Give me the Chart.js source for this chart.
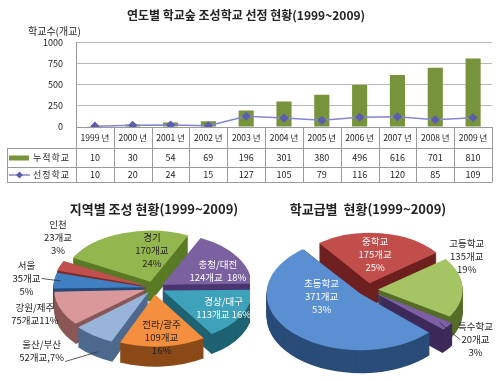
<!DOCTYPE html>
<html>
<head>
<meta charset="utf-8">
<script src="https://cdn.jsdelivr.net/npm/chart.js@4.4.0/dist/chart.umd.min.js"></script>
<style>
html, body { margin: 0; padding: 0; background: #fff; }
#wrap { position: relative; width: 500px; height: 380px; overflow: hidden; }
.box { position: absolute; }
</style>
</head>
<body>
<div id="wrap">
  <div class="box" style="left:0;top:0;width:500px;height:195px"><canvas id="yearChart"></canvas></div>
  <div class="box" style="left:0;top:195px;width:250px;height:185px"><canvas id="regionChart"></canvas></div>
  <div class="box" style="left:250px;top:195px;width:250px;height:185px"><canvas id="levelChart"></canvas></div>
</div>
<script>
// 연도별 선정 현황
const years = ['1999', '2000', '2001', '2002', '2003', '2004', '2005', '2006', '2007', '2008', '2009'];
const cumulative = [10, 30, 54, 69, 196, 301, 380, 496, 616, 701, 810];
const selected = [10, 20, 24, 15, 127, 105, 79, 116, 120, 85, 109];
const yTicks = [0, 250, 500, 750, 1000];

// 지역별 조성 현황
const regionNames = ['경기', '충청/대전', '경상/대구', '전라/광주', '울산/부산', '강원/제주', '서울', '인천'];
const regionCounts = [170, 124, 113, 109, 52, 75, 35, 23];

// 학교급별 현황
const levelNames = ['중학교', '고등학교', '특수학교', '초등학교'];
const levelCounts = [175, 135, 20, 371];

const KR = '"Noto Sans CJK KR", "Noto Sans", sans-serif';
Chart.defaults.font.family = KR;
Chart.defaults.color = '#222';

// 아래 데이터 표 + y축 제목
const tablePlugin = {
  id: 'table',
  afterDraw(chart) {
    const { ctx, chartArea: a, scales: { x } } = chart;
    const n = years.length;
    const cw = (a.right - a.left) / n;
    const left = 7;
    const r0 = Math.round(a.bottom) + 0.5, r1 = r0 + 21, r2 = r1 + 19, r3 = r2 + 15;
    ctx.save();
    ctx.strokeStyle = '#9a9a9a';
    ctx.lineWidth = 1;
    ctx.beginPath();
    ctx.moveTo(a.left, r0); ctx.lineTo(a.right, r0);
    [r1, r2, r3].forEach(y => { ctx.moveTo(left, y); ctx.lineTo(a.right, y); });
    ctx.moveTo(left + 0.5, r1); ctx.lineTo(left + 0.5, r3);
    for (let i = 0; i <= n; i++) {
      const xx = Math.round(a.left + i * cw) + 0.5;
      ctx.moveTo(xx, r0); ctx.lineTo(xx, r3);
    }
    ctx.stroke();

    ctx.fillStyle = '#222';
    ctx.textAlign = 'center';
    ctx.textBaseline = 'middle';
    years.forEach((yr, i) => {
      const cx = x.getPixelForValue(i);
      ctx.font = '8.5px ' + KR;
      ctx.fillText(yr + ' 년', cx, (r0 + r1) / 2);
      ctx.font = '9px ' + KR;
      ctx.fillText(String(cumulative[i]), cx, (r1 + r2) / 2);
      ctx.fillText(String(selected[i]), cx, (r2 + r3) / 2);
    });

    // 범례 기호
    ctx.fillStyle = '#77933c';
    ctx.fillRect(9, (r1 + r2) / 2 - 2.5, 20, 5);
    const ly = (r2 + r3) / 2;
    ctx.strokeStyle = '#8585d0';
    ctx.lineWidth = 1.5;
    ctx.beginPath(); ctx.moveTo(9, ly); ctx.lineTo(30, ly); ctx.stroke();
    ctx.fillStyle = '#5c5cb0';
    ctx.beginPath();
    ctx.moveTo(19.5, ly - 3.5); ctx.lineTo(23, ly); ctx.lineTo(19.5, ly + 3.5); ctx.lineTo(16, ly);
    ctx.closePath(); ctx.fill();

    ctx.fillStyle = '#222';
    ctx.textAlign = 'left';
    ctx.font = '9px ' + KR;
    ctx.letterSpacing = '1px';
    ctx.fillText('누적학교', 33, (r1 + r2) / 2);
    ctx.fillText('선정학교', 33, ly);
    ctx.letterSpacing = '0px';

    ctx.font = '10px ' + KR;
    ctx.fillText('학교수(개교)', 28, 31);
    ctx.restore();
  }
};

new Chart(document.getElementById('yearChart'), {
  type: 'bar',
  data: {
    labels: years,
    datasets: [
      {
        type: 'line',
        label: '선정학교',
        data: selected,
        borderColor: '#8585d0',
        borderWidth: 1.5,
        pointStyle: 'rectRot',
        pointRadius: 3.5,
        pointBackgroundColor: '#5c5cb0',
        pointBorderColor: '#5c5cb0',
        tension: 0,
        order: 1
      },
      {
        label: '누적학교',
        data: cumulative,
        backgroundColor: '#77933c',
        barPercentage: 0.4,
        categoryPercentage: 1,
        order: 2
      }
    ]
  },
  options: {
    responsive: true,
    maintainAspectRatio: false,
    animation: false,
    layout: { padding: { left: 0, right: 8, top: 0, bottom: 0 } },
    plugins: {
      legend: { display: false },
      tooltip: { enabled: false },
      title: {
        display: true,
        text: '연도별 학교숲 조성학교 선정 현황(1999~2009)',
        font: { size: 12, weight: 'bold' },
        color: '#222',
        padding: { top: 8, bottom: 20 }
      }
    },
    scales: {
      x: {
        ticks: { display: false },
        grid: { display: false },
        border: { display: true, color: '#9a9a9a' },
        afterFit: s => { s.height = 68; }
      },
      y: {
        min: 0,
        max: 1000,
        afterBuildTicks: s => { s.ticks = yTicks.map(v => ({ value: v })); },
        ticks: { font: { size: 9 }, padding: 13, color: '#222', callback: v => String(v) },
        grid: { color: '#b8b8b8', drawTicks: false },
        border: { display: true, color: '#9a9a9a' },
        afterFit: s => { s.width = 76; }
      }
    }
  },
  plugins: [tablePlugin]
});

// 파이: 납작하게 + 옆면 + 글자 (ArcElement.draw 와 같은 방식으로 조각 위치 계산)
function sector(ctx, a, dy) {
  const mid = (a.startAngle + a.endAngle) / 2;
  const off = (a.options.offset || 0) / 4;
  const fix = 1 - Math.sin(Math.min(Math.PI, a.circumference || 0));
  const cx = a.x + Math.cos(mid) * off, cy = a.y + Math.sin(mid) * off + dy;
  ctx.beginPath();
  ctx.moveTo(cx, cy);
  ctx.arc(cx, cy, a.outerRadius + off * fix, a.startAngle, a.endAngle);
  ctx.closePath();
  ctx.fill();
}

const pie3d = {
  id: 'pie3d',
  beforeDatasetsDraw(chart, args, o) {
    const arcs = chart.getDatasetMeta(0).data;
    const ctx = chart.ctx;
    const cx = arcs[0].x, cy = arcs[0].y;
    ctx.save();
    ctx.translate(cx, cy);
    ctx.scale(1, o.squash);
    ctx.translate(-cx, -cy);
    for (let d = o.depth; d >= 1; d--) {
      arcs.forEach((a, i) => {
        ctx.fillStyle = o.sides[i];
        sector(ctx, a, d / o.squash);
      });
    }
  },
  afterDatasetsDraw(chart, args, o) {
    const ctx = chart.ctx;
    ctx.restore();
    const arcs = chart.getDatasetMeta(0).data;
    const vals = chart.data.datasets[0].data;
    const names = chart.data.labels;
    const total = vals.reduce((s, v) => s + v, 0);
    ctx.save();
    ctx.font = '9.5px ' + KR;
    ctx.textAlign = 'center';
    ctx.textBaseline = 'middle';
    arcs.forEach((a, i) => {
      const pct = Math.round(vals[i] / total * 100) + '%';
      const cnt = vals[i] + '개교';
      const lines = o.sep[i] === '\n' ? [names[i], cnt, pct] : [names[i], cnt + o.sep[i] + pct];
      const ang = (a.startAngle + a.endAngle) / 2 + o.turn[i] * Math.PI / 180;
      const R = a.outerRadius * o.dist[i];
      const x = a.x + Math.cos(ang) * R;
      const y = a.y + Math.sin(ang) * R * o.squash;
      const lh = 13;
      const y0 = y - (lines.length - 1) * lh / 2;
      ctx.fillStyle = o.textColors[i];
      lines.forEach((t, k) => ctx.fillText(t, x, y0 + k * lh));
      if (o.leader[i] >= 0) {
        const k = o.leader[i];
        const w = ctx.measureText(lines[k]).width;
        const mid = (a.startAngle + a.endAngle) / 2;
        const ex = a.x + Math.cos(mid) * (a.outerRadius + 6);
        const ey = a.y + Math.sin(mid) * (a.outerRadius + 6) * o.squash + o.drop[i];
        const sx = ex > x ? x + w / 2 + 1 : x - w / 2 - 1;
        ctx.strokeStyle = '#333';
        ctx.lineWidth = 0.8;
        ctx.beginPath();
        ctx.moveTo(sx, y0 + k * lh + (o.drop[i] ? 4 : 0));
        ctx.lineTo(ex, ey);
        ctx.stroke();
      }
    });
    ctx.restore();
  }
};

function pieOptions(title, pad, extra) {
  return {
    responsive: true,
    maintainAspectRatio: false,
    animation: false,
    layout: { padding: pad },
    plugins: {
      legend: { display: false },
      tooltip: { enabled: false },
      title: {
        display: true,
        text: title,
        font: { size: 13, weight: 'bold' },
        color: '#222',
        padding: { top: 6, bottom: 6 }
      },
      pie3d: extra
    }
  };
}

new Chart(document.getElementById('regionChart'), {
  type: 'pie',
  data: {
    labels: regionNames,
    datasets: [{
      data: regionCounts,
      backgroundColor: ['#94b64f', '#7c61a0', '#3ea2ba', '#f38f3f', '#98b4db', '#d9989a', '#4080c2', '#c0504d'],
      borderWidth: 0,
      offset: [44, 40, 40, 46, 36, 36, 30, 30],
      radius: 88,
      rotation: -62,
      clip: false
    }]
  },
  options: pieOptions('지역별 조성 현황(1999~2009)', { left: 58, right: 0, top: 0, bottom: 27 }, {
    squash: 0.58,
    depth: 20,
    sides: ['#5a7a25', '#4a3570', '#1f6373', '#8b4a18', '#4d6a8e', '#8a5757', '#24497a', '#7a2a2a'],
    textColors: ['#222', '#fff', '#fff', '#222', '#222', '#222', '#222', '#222'],
    sep: ['\n', '  ', ' ', '\n', ',', '', '\n', '\n'],
    turn: [16.5, 8, -2, 0, 9.5, 0, 0, 20],
    dist: [0.73, 0.8, 0.88, 0.98, 1.78, 1.45, 1.46, 1.47],
    leader: [-1, -1, -1, -1, 1, -1, 1, -1],
    drop: [0, 0, 0, 0, 20, 0, 0, 0]
  }),
  plugins: [pie3d]
});

new Chart(document.getElementById('levelChart'), {
  type: 'pie',
  data: {
    labels: levelNames,
    datasets: [{
      data: levelCounts,
      backgroundColor: ['#c24e4c', '#a5c565', '#7d5fa5', '#5a8fd2'],
      borderWidth: 0,
      offset: [44, 40, 36, 40],
      radius: 84,
      rotation: -37,
      clip: false
    }]
  },
  options: pieOptions('학교급별  현황(1999~2009)', { left: 0, right: 14, top: 0, bottom: 23 }, {
    squash: 0.6,
    depth: 23,
    sides: ['#6e2020', '#566e28', '#3e2a5a', '#2a4c78'],
    textColors: ['#fff', '#222', '#222', '#fff'],
    sep: ['\n', '\n', '\n', '\n'],
    turn: [-1, -27, 0.5, 28],
    dist: [0.71, 1.35, 1.62, 0.57],
    leader: [-1, -1, 1, -1],
    drop: [0, 0, 0, 0]
  }),
  plugins: [pie3d]
});
</script>
</body>
</html>
